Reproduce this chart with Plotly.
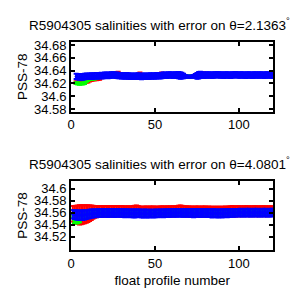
import plotly.graph_objects as go

profiles = list(range(1, 121))

# ---------- top panel (theta = 2.1363) ----------
top_blue = [None, None,
    34.6310, 34.6305, 34.6302, 34.6306, 34.6300, 34.6308, 34.6312, 34.6310,
    34.6314, 34.6316, 34.6312, 34.6318, 34.6320, 34.6316, 34.6322, 34.6325, 34.6320, 34.6328,
    34.6330, 34.6325, 34.6328, 34.6332, 34.6335, 34.6330, 34.6328, 34.6325, 34.6322, 34.6320,
    34.6318, 34.6315, 34.6320, 34.6316, 34.6312, 34.6315, 34.6310, 34.6314, 34.6312, 34.6316,
    34.6310, 34.6308, 34.6312, 34.6315, 34.6310, 34.6313, 34.6316, 34.6314, 34.6318, 34.6315,
    34.6320, 34.6322, 34.6318, 34.6325, 34.6328, 34.6330, 34.6326, 34.6332, 34.6335, 34.6330,
    34.6328, 34.6332, 34.6335, 34.6330, 34.6325, 34.6322, 34.6315, 34.6310, 34.6308, 34.6305,
    34.6305, 34.6308, 34.6312, 34.6318, 34.6320, 34.6328, 34.6335, 34.6332, 34.6328, 34.6330,
    34.6332, 34.6335, 34.6330, 34.6328, 34.6332, 34.6335, 34.6338, 34.6335, 34.6332, 34.6330,
    34.6328, 34.6332, 34.6335, 34.6330, 34.6328, 34.6332, 34.6335, 34.6338, 34.6335, 34.6330,
    34.6332, 34.6335, 34.6330, 34.6328, 34.6332, 34.6335, 34.6330, 34.6328, 34.6332, 34.6335,
    34.6330, 34.6332, 34.6335, 34.6330, 34.6328, 34.6332, 34.6335, 34.6330, 34.6332, 34.6328]
top_blue_err = [0, 0,
    0.0042, 0.0042, 0.0042, 0.0042, 0.0042, 0.0042, 0.0042, 0.0042,
    0.0042, 0.0042, 0.0042, 0.0042, 0.0042, 0.0042, 0.0042, 0.0042, 0.0042, 0.0042,
    0.0042, 0.0042, 0.0042, 0.0042, 0.0042, 0.0042, 0.0042, 0.0042, 0.0042, 0.0042,
    0.0042, 0.0042, 0.0042, 0.0042, 0.0042, 0.0042, 0.0042, 0.0042, 0.0042, 0.0042,
    0.0042, 0.0042, 0.0042, 0.0042, 0.0042, 0.0042, 0.0042, 0.0042, 0.0042, 0.0042,
    0.0042, 0.0042, 0.0042, 0.0042, 0.0042, 0.0042, 0.0042, 0.0042, 0.0042, 0.0042,
    0.0042, 0.0042, 0.0042, 0.0048, 0.0052, 0.0046, 0.0035, 0.0022, 0.0016, 0.0015,
    0.0015, 0.0016, 0.0022, 0.0030, 0.0045, 0.0052, 0.0048, 0.0042, 0.0042, 0.0042,
    0.0042, 0.0042, 0.0042, 0.0042, 0.0042, 0.0042, 0.0042, 0.0042, 0.0042, 0.0042,
    0.0042, 0.0042, 0.0042, 0.0042, 0.0042, 0.0042, 0.0042, 0.0042, 0.0042, 0.0042,
    0.0042, 0.0042, 0.0042, 0.0042, 0.0042, 0.0042, 0.0042, 0.0042, 0.0042, 0.0042,
    0.0042, 0.0042, 0.0042, 0.0042, 0.0042, 0.0042, 0.0042, 0.0042, 0.0042, 0.0042]

top_red = [None, None,
    34.6215, 34.6210, 34.6212, 34.6215, 34.6215, 34.6220, 34.6228, 34.6235,
    34.6250, 34.6260, 34.6265, 34.6270, 34.6272, 34.6275, 34.6278, 34.6305, 34.6310, 34.6315,
    34.6320, 34.6322, 34.6325, 34.6330, 34.6335, 34.6340, 34.6348, 34.6352, 34.6330, 34.6320,
    34.6318, 34.6315, 34.6320, 34.6316, 34.6312, 34.6315, 34.6310, 34.6314, 34.6312, 34.6320,
    34.6340, 34.6318, 34.6312, 34.6315, 34.6310, 34.6313, 34.6316, 34.6314, 34.6318, 34.6315,
    34.6320, 34.6322, 34.6318, 34.6340, 34.6328, 34.6330, 34.6326, 34.6332, 34.6335, 34.6330,
    34.6328, 34.6332, 34.6335, 34.6330, 34.6325, 34.6322, 34.6315, 34.6310, 34.6308, 34.6305,
    34.6305, 34.6308, 34.6312, 34.6318, 34.6320, 34.6328, 34.6335, 34.6332, 34.6345, 34.6330,
    34.6332, 34.6335, 34.6330, 34.6328, 34.6332, 34.6335, 34.6338, 34.6335, 34.6332, 34.6330,
    34.6328, 34.6332, 34.6335, 34.6330, 34.6328, 34.6332, 34.6335, 34.6338, 34.6335, 34.6330,
    34.6332, 34.6335, 34.6330, 34.6328, 34.6332, 34.6335, 34.6330, 34.6328, 34.6332, 34.6335,
    34.6330, 34.6332, 34.6335, 34.6330, 34.6328, 34.6332, 34.6335, 34.6330, 34.6332, 34.6328]
top_red_err = [0, 0,
    0.0018, 0.0018, 0.0018, 0.0018, 0.0018, 0.0018, 0.0018, 0.0018,
    0.0020, 0.0020, 0.0020, 0.0020, 0.0020, 0.0020, 0.0020, 0.0025, 0.0025, 0.0025,
    0.0030, 0.0030, 0.0030, 0.0030, 0.0030, 0.0030, 0.0030, 0.0030, 0.0030, 0.0030,
    0.0030, 0.0030, 0.0030, 0.0030, 0.0030, 0.0030, 0.0030, 0.0030, 0.0030, 0.0030,
    0.0030, 0.0030, 0.0030, 0.0030, 0.0030, 0.0030, 0.0030, 0.0030, 0.0030, 0.0030,
    0.0030, 0.0030, 0.0030, 0.0030, 0.0030, 0.0030, 0.0030, 0.0030, 0.0030, 0.0030,
    0.0030, 0.0030, 0.0030, 0.0030, 0.0030, 0.0030, 0.0025, 0.0015, 0.0012, 0.0012,
    0.0012, 0.0012, 0.0015, 0.0020, 0.0030, 0.0030, 0.0030, 0.0030, 0.0030, 0.0030,
    0.0030, 0.0030, 0.0030, 0.0030, 0.0030, 0.0030, 0.0030, 0.0030, 0.0030, 0.0030,
    0.0030, 0.0030, 0.0030, 0.0030, 0.0030, 0.0030, 0.0030, 0.0030, 0.0030, 0.0030,
    0.0030, 0.0030, 0.0030, 0.0030, 0.0030, 0.0030, 0.0030, 0.0030, 0.0030, 0.0030,
    0.0030, 0.0030, 0.0030, 0.0030, 0.0030, 0.0030, 0.0030, 0.0030, 0.0030, 0.0030]

top_green = [None, None,
    34.6205, 34.6200, 34.6195, 34.6198, 34.6200, 34.6205, 34.6235, 34.6255,
    34.6268, 34.6272, 34.6275, 34.6278, 34.6285, 34.6295, 34.6305, 34.6310, 34.6315, 34.6320,
    34.6325, 34.6330, 34.6342, 34.6352, 34.6358, 34.6340, 34.6328, 34.6325, 34.6322, 34.6320,
    34.6318, 34.6315, 34.6320, 34.6316, 34.6312, 34.6315, 34.6310, 34.6314, 34.6312, 34.6316,
    34.6310, 34.6308, 34.6312, 34.6315, 34.6310, 34.6313, 34.6316, 34.6314, 34.6318, 34.6315,
    34.6320, 34.6322, 34.6318, 34.6325, 34.6328, 34.6330, 34.6326, 34.6332, 34.6335, 34.6330,
    34.6328, 34.6332, 34.6335, 34.6330, 34.6325, 34.6322, 34.6315, 34.6310, 34.6306, 34.6304,
    34.6304, 34.6306, 34.6310, 34.6312, 34.6318, 34.6328, 34.6335, 34.6332, 34.6328, 34.6330,
    34.6332, 34.6335, 34.6330, 34.6328, 34.6332, 34.6335, 34.6338, 34.6335, 34.6332, 34.6330,
    34.6328, 34.6332, 34.6335, 34.6330, 34.6328, 34.6332, 34.6335, 34.6338, 34.6335, 34.6330,
    34.6332, 34.6335, 34.6330, 34.6328, 34.6332, 34.6335, 34.6330, 34.6328, 34.6332, 34.6335,
    34.6330, 34.6332, 34.6335, 34.6330, 34.6328, 34.6332, 34.6335, 34.6330, 34.6332, 34.6328]
top_green_err = [0, 0,
    0.0015, 0.0015, 0.0015, 0.0015, 0.0015, 0.0015, 0.0015, 0.0015,
    0.0015, 0.0015, 0.0015, 0.0015, 0.0015, 0.0015, 0.0015, 0.0015, 0.0015, 0.0015,
    0.0015, 0.0015, 0.0015, 0.0015, 0.0015, 0.0015, 0.0015, 0.0015, 0.0015, 0.0015,
    0.0015, 0.0015, 0.0015, 0.0015, 0.0015, 0.0015, 0.0015, 0.0015, 0.0015, 0.0015,
    0.0015, 0.0015, 0.0015, 0.0015, 0.0015, 0.0015, 0.0015, 0.0015, 0.0015, 0.0015,
    0.0015, 0.0015, 0.0015, 0.0015, 0.0015, 0.0015, 0.0015, 0.0015, 0.0015, 0.0015,
    0.0015, 0.0015, 0.0015, 0.0015, 0.0015, 0.0015, 0.0015, 0.0015, 0.0018, 0.0020,
    0.0020, 0.0020, 0.0020, 0.0018, 0.0015, 0.0015, 0.0015, 0.0015, 0.0015, 0.0015,
    0.0015, 0.0015, 0.0015, 0.0015, 0.0015, 0.0015, 0.0015, 0.0015, 0.0015, 0.0015,
    0.0015, 0.0015, 0.0015, 0.0015, 0.0015, 0.0015, 0.0015, 0.0015, 0.0015, 0.0015,
    0.0015, 0.0015, 0.0015, 0.0015, 0.0015, 0.0015, 0.0015, 0.0015, 0.0015, 0.0015,
    0.0015, 0.0015, 0.0015, 0.0015, 0.0015, 0.0015, 0.0015, 0.0015, 0.0015, 0.0015]

# ---------- bottom panel (theta = 4.0801) ----------
bot_blue = [
    34.5575, 34.5570, 34.5565, 34.5560, 34.5558, 34.5562, 34.5560, 34.5565, 34.5570, 34.5575,
    34.5580, 34.5585, 34.5588, 34.5592, 34.5590, 34.5595, 34.5598, 34.5594, 34.5600, 34.5598,
    34.5600, 34.5596, 34.5598, 34.5602, 34.5598, 34.5594, 34.5598, 34.5600, 34.5596, 34.5598,
    34.5594, 34.5592, 34.5596, 34.5593, 34.5590, 34.5594, 34.5591, 34.5588, 34.5592, 34.5594,
    34.5590, 34.5588, 34.5586, 34.5590, 34.5588, 34.5585, 34.5588, 34.5590, 34.5586, 34.5588,
    34.5591, 34.5588, 34.5592, 34.5594, 34.5590, 34.5593, 34.5596, 34.5592, 34.5595, 34.5598,
    34.5596, 34.5600, 34.5598, 34.5602, 34.5599, 34.5596, 34.5598, 34.5600, 34.5597, 34.5599,
    34.5596, 34.5598, 34.5594, 34.5597, 34.5600, 34.5598, 34.5595, 34.5597, 34.5599, 34.5596,
    34.5594, 34.5597, 34.5593, 34.5590, 34.5594, 34.5592, 34.5588, 34.5591, 34.5594, 34.5590,
    34.5593, 34.5596, 34.5592, 34.5595, 34.5598, 34.5600, 34.5597, 34.5599, 34.5602, 34.5600,
    34.5603, 34.5600, 34.5602, 34.5604, 34.5601, 34.5603, 34.5600, 34.5602, 34.5604, 34.5601,
    34.5603, 34.5600, 34.5602, 34.5604, 34.5601, 34.5603, 34.5600, 34.5602, 34.5604, 34.5602]
bot_blue_err = [
    0.0072, 0.0074, 0.0076, 0.0078, 0.0080, 0.0078, 0.0080, 0.0076, 0.0074, 0.0072,
    0.0070, 0.0068, 0.0066, 0.0064, 0.0066, 0.0064, 0.0063, 0.0065, 0.0063, 0.0064,
    0.0063, 0.0065, 0.0063, 0.0062, 0.0064, 0.0065, 0.0063, 0.0062, 0.0064, 0.0063,
    0.0064, 0.0065, 0.0063, 0.0064, 0.0065, 0.0063, 0.0064, 0.0065, 0.0063, 0.0062,
    0.0064, 0.0063, 0.0065, 0.0063, 0.0064, 0.0065, 0.0063, 0.0062, 0.0064, 0.0063,
    0.0062, 0.0064, 0.0063, 0.0062, 0.0064, 0.0063, 0.0062, 0.0064, 0.0063, 0.0062,
    0.0063, 0.0062, 0.0064, 0.0063, 0.0062, 0.0064, 0.0063, 0.0062, 0.0064, 0.0063,
    0.0064, 0.0063, 0.0068, 0.0064, 0.0063, 0.0062, 0.0064, 0.0063, 0.0062, 0.0064,
    0.0066, 0.0063, 0.0064, 0.0070, 0.0064, 0.0063, 0.0066, 0.0064, 0.0063, 0.0068,
    0.0064, 0.0063, 0.0066, 0.0064, 0.0063, 0.0062, 0.0064, 0.0063, 0.0062, 0.0064,
    0.0063, 0.0064, 0.0063, 0.0062, 0.0064, 0.0063, 0.0064, 0.0063, 0.0062, 0.0064,
    0.0063, 0.0064, 0.0063, 0.0062, 0.0064, 0.0063, 0.0064, 0.0063, 0.0062, 0.0064]

bot_red = [
    34.5585, 34.5580, 34.5572, 34.5568, 34.5565, 34.5568, 34.5570, 34.5575, 34.5580, 34.5585,
    34.5592, 34.5600, 34.5608, 34.5615, 34.5620, 34.5622, 34.5624, 34.5625, 34.5626, 34.5626,
    34.5627, 34.5625, 34.5626, 34.5629, 34.5626, 34.5623, 34.5627, 34.5631, 34.5626, 34.5625,
    34.5623, 34.5621, 34.5625, 34.5623, 34.5621, 34.5624, 34.5627, 34.5633, 34.5636, 34.5629,
    34.5621, 34.5619, 34.5617, 34.5621, 34.5623, 34.5619, 34.5621, 34.5623, 34.5621, 34.5619,
    34.5621, 34.5619, 34.5623, 34.5625, 34.5621, 34.5623, 34.5626, 34.5623, 34.5625, 34.5627,
    34.5625, 34.5627, 34.5629, 34.5631, 34.5636, 34.5631, 34.5626, 34.5627, 34.5625, 34.5623,
    34.5621, 34.5623, 34.5619, 34.5621, 34.5623, 34.5621, 34.5619, 34.5621, 34.5623, 34.5621,
    34.5619, 34.5621, 34.5618, 34.5616, 34.5619, 34.5617, 34.5615, 34.5617, 34.5619, 34.5616,
    34.5619, 34.5621, 34.5619, 34.5621, 34.5627, 34.5629, 34.5623, 34.5625, 34.5627, 34.5625,
    34.5627, 34.5625, 34.5627, 34.5629, 34.5626, 34.5628, 34.5625, 34.5627, 34.5629, 34.5626,
    34.5627, 34.5625, 34.5627, 34.5629, 34.5626, 34.5628, 34.5625, 34.5627, 34.5629, 34.5627]
bot_red_err = [
    0.0130, 0.0135, 0.0145, 0.0155, 0.0160, 0.0158, 0.0155, 0.0150, 0.0145, 0.0140,
    0.0130, 0.0120, 0.0110, 0.0100, 0.0095, 0.0092, 0.0090, 0.0088, 0.0088, 0.0088,
    0.0086, 0.0088, 0.0088, 0.0086, 0.0088, 0.0090, 0.0086, 0.0084, 0.0088, 0.0088,
    0.0086, 0.0086, 0.0084, 0.0086, 0.0086, 0.0084, 0.0086, 0.0086, 0.0086, 0.0086,
    0.0084, 0.0084, 0.0084, 0.0084, 0.0084, 0.0084, 0.0084, 0.0084, 0.0084, 0.0084,
    0.0084, 0.0084, 0.0084, 0.0084, 0.0084, 0.0084, 0.0084, 0.0084, 0.0084, 0.0084,
    0.0084, 0.0084, 0.0084, 0.0086, 0.0088, 0.0086, 0.0084, 0.0084, 0.0084, 0.0084,
    0.0084, 0.0084, 0.0084, 0.0084, 0.0084, 0.0084, 0.0084, 0.0084, 0.0084, 0.0084,
    0.0084, 0.0084, 0.0084, 0.0084, 0.0084, 0.0084, 0.0084, 0.0084, 0.0084, 0.0084,
    0.0084, 0.0084, 0.0084, 0.0084, 0.0084, 0.0086, 0.0084, 0.0084, 0.0084, 0.0084,
    0.0082, 0.0082, 0.0082, 0.0082, 0.0082, 0.0082, 0.0082, 0.0082, 0.0082, 0.0082,
    0.0082, 0.0082, 0.0082, 0.0082, 0.0082, 0.0082, 0.0082, 0.0082, 0.0082, 0.0082]

bot_green = [
    34.5550, 34.5450, 34.5445, 34.5450, 34.5470, 34.5520, 34.5550, 34.5560, 34.5568, 34.5575,
    34.5580, 34.5585, 34.5588, 34.5592, 34.5590, 34.5595, 34.5598, 34.5594, 34.5600, 34.5598,
    34.5600, 34.5596, 34.5598, 34.5602, 34.5598, 34.5594, 34.5598, 34.5600, 34.5596, 34.5598,
    34.5594, 34.5592, 34.5596, 34.5593, 34.5590, 34.5594, 34.5591, 34.5588, 34.5592, 34.5594,
    34.5590, 34.5588, 34.5586, 34.5590, 34.5588, 34.5585, 34.5588, 34.5590, 34.5586, 34.5588,
    34.5591, 34.5588, 34.5592, 34.5594, 34.5590, 34.5593, 34.5596, 34.5592, 34.5595, 34.5598,
    34.5596, 34.5600, 34.5598, 34.5602, 34.5599, 34.5596, 34.5598, 34.5600, 34.5597, 34.5599,
    34.5596, 34.5598, 34.5594, 34.5597, 34.5600, 34.5598, 34.5595, 34.5597, 34.5599, 34.5596,
    34.5594, 34.5597, 34.5593, 34.5590, 34.5594, 34.5592, 34.5588, 34.5591, 34.5594, 34.5590,
    34.5593, 34.5596, 34.5592, 34.5595, 34.5598, 34.5600, 34.5597, 34.5599, 34.5602, 34.5600,
    34.5603, 34.5600, 34.5602, 34.5604, 34.5601, 34.5603, 34.5600, 34.5602, 34.5604, 34.5601,
    34.5603, 34.5600, 34.5602, 34.5604, 34.5601, 34.5603, 34.5600, 34.5602, 34.5604, 34.5602]
bot_green_err = [
    0.0030, 0.0025, 0.0025, 0.0025, 0.0030, 0.0030, 0.0030, 0.0030, 0.0030, 0.0030,
    0.0030, 0.0030, 0.0030, 0.0030, 0.0030, 0.0030, 0.0030, 0.0030, 0.0030, 0.0030,
    0.0030, 0.0030, 0.0030, 0.0030, 0.0030, 0.0030, 0.0030, 0.0030, 0.0030, 0.0030,
    0.0030, 0.0030, 0.0030, 0.0030, 0.0030, 0.0030, 0.0030, 0.0030, 0.0030, 0.0030,
    0.0030, 0.0030, 0.0030, 0.0030, 0.0030, 0.0030, 0.0030, 0.0030, 0.0030, 0.0030,
    0.0030, 0.0030, 0.0030, 0.0030, 0.0030, 0.0030, 0.0030, 0.0030, 0.0030, 0.0030,
    0.0030, 0.0030, 0.0030, 0.0030, 0.0030, 0.0030, 0.0030, 0.0030, 0.0030, 0.0030,
    0.0030, 0.0030, 0.0030, 0.0030, 0.0030, 0.0030, 0.0030, 0.0030, 0.0030, 0.0030,
    0.0030, 0.0030, 0.0030, 0.0030, 0.0030, 0.0030, 0.0030, 0.0030, 0.0030, 0.0030,
    0.0030, 0.0030, 0.0030, 0.0030, 0.0030, 0.0030, 0.0030, 0.0030, 0.0030, 0.0030,
    0.0030, 0.0030, 0.0030, 0.0030, 0.0030, 0.0030, 0.0030, 0.0030, 0.0030, 0.0030,
    0.0030, 0.0030, 0.0030, 0.0030, 0.0030, 0.0030, 0.0030, 0.0030, 0.0030, 0.0030]

titles = ["R5904305 salinities with error on θ=2.1363<sup>°</sup>",
          "R5904305 salinities with error on θ=4.0801<sup>°</sup>"]
y_title = "PSS-78"
x_title = "float profile number"
top_yticks = [34.58, 34.6, 34.62, 34.64, 34.66, 34.68]
bot_yticks = [34.52, 34.54, 34.56, 34.58, 34.6]
x_ticks = [0, 50, 100]

RED, GREEN, BLUE = "#ff0000", "#00ff00", "#0000ff"
FONT = "Liberation Sans, Arial, sans-serif"

fig = go.Figure()

def add_series(y, err, color, xa, ya, thick):
    fig.add_trace(go.Scatter(
        x=profiles, y=y, mode="markers", xaxis=xa, yaxis=ya,
        marker=dict(color=color, size=3, line=dict(width=0)),
        error_y=dict(type="data", array=err, visible=True, color=color,
                     thickness=thick, width=2.5),
        showlegend=False, hoverinfo="skip"))

add_series(top_red, top_red_err, RED, "x", "y", 2)
add_series(top_green, top_green_err, GREEN, "x", "y", 2)
add_series(top_blue, top_blue_err, BLUE, "x", "y", 2)
add_series(bot_red, bot_red_err, RED, "x2", "y2", 2)
add_series(bot_green, bot_green_err, GREEN, "x2", "y2", 2)
add_series(bot_blue, bot_blue_err, BLUE, "x2", "y2", 2)

axis_common = dict(showline=True, linecolor="black", linewidth=2, mirror="ticks",
                   ticks="inside", ticklen=4, tickwidth=1.5, tickcolor="black",
                   showgrid=False, zeroline=False,
                   tickfont=dict(family=FONT, size=13, color="black"))

fig.update_layout(
    width=300, height=300, margin=dict(l=0, r=0, t=0, b=0),
    paper_bgcolor="white", plot_bgcolor="white",
    font=dict(family=FONT, color="black"),
    xaxis=dict(domain=[0.2267, 0.91], anchor="y", range=[0, 120.5],
               tickvals=x_ticks, **axis_common),
    yaxis=dict(domain=[0.63, 0.87], anchor="x", range=[34.576, 34.685],
               tickvals=top_yticks, ticktext=[f"{v:g}" for v in top_yticks],
               title=dict(text=y_title, font=dict(family=FONT, size=13.5), standoff=3),
               **axis_common),
    xaxis2=dict(domain=[0.2267, 0.91], anchor="y2", range=[0, 120.5],
                tickvals=x_ticks,
                title=dict(text=x_title, font=dict(family=FONT, size=13.5), standoff=6),
                **axis_common),
    yaxis2=dict(domain=[0.1533, 0.3933], anchor="x2", range=[34.497, 34.614],
                tickvals=bot_yticks, ticktext=[f"{v:g}" for v in bot_yticks],
                title=dict(text=y_title, font=dict(family=FONT, size=13.5), standoff=3),
                **axis_common),
    annotations=[
        dict(text=titles[0], x=0.525, y=1 - 21 / 300, xref="paper", yref="paper",
             showarrow=False, font=dict(family=FONT, size=13.5), xanchor="center", yanchor="middle"),
        dict(text=titles[1], x=0.525, y=1 - 164 / 300, xref="paper", yref="paper",
             showarrow=False, font=dict(family=FONT, size=13.5), xanchor="center", yanchor="middle"),
    ],
)

fig.write_html("out.html")
